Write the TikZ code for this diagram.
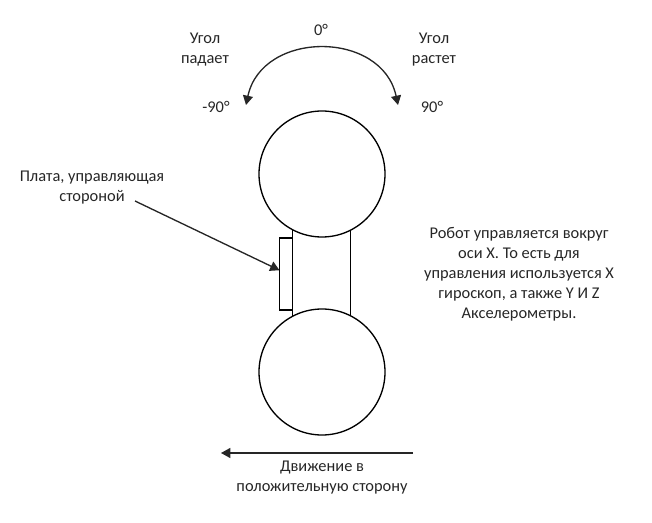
\documentclass[tikz,border=0pt]{standalone}
\usepackage{fontspec}
\setmainfont{Carlito}
\usetikzlibrary{arrows.meta}

\begin{document}
\begin{tikzpicture}[
    x=0.75pt,
    y=-0.75pt,
    line width=1pt,
    wheel/.style={circle, draw, fill=white, minimum size=94.5pt, inner sep=0pt, outer sep=0pt},
    chassis/.style={rectangle, draw, minimum width=43.5pt, minimum height=69pt, inner sep=0pt, outer sep=0pt},
    board/.style={rectangle, draw, fill=white, minimum width=9.75pt, minimum height=54pt, inner sep=0pt, outer sep=0pt},
    label/.style={align=center, inner sep=0pt, text=black!85, font=\fontsize{12.3}{15}\selectfont},
    arrow/.style={-{Triangle[length=7pt,width=7.5pt]}, black!85}
]
\useasboundingbox (0,0) rectangle (652,523);

% Robot body
\node[chassis] (body) at (321.5,273) {};
\node[board] (plate) at (286,274) {};
\node[wheel] (top_wheel) at (322,174) {};
\node[wheel] (bottom_wheel) at (322,372) {};

% Angle labels
\node[label] (zero) at (321,30) {0°};
\node[label] (minus_ninety) at (216,107) {-90°};
\node[label] (plus_ninety) at (432,107) {90°};
\node[label] (angle_down) at (205,50) {Угол\\падает};
\node[label] (angle_up) at (434,50) {Угол\\растет};

% Side labels
\node[label] (plate_label) at (92,188) {Плата, управляющая\\стороной};
\node[label] (axis_note) at (519,274) {Робот управляется вокруг\\оси X. То есть для\\управления используется X\\гироскоп, а также Y И Z\\Акселерометры.};
\node[label] (motion_label) at (322,478) {Движение в\\положительную сторону};

% Free arrow ends
\coordinate (arc_left) at (246,105);
\coordinate (arc_right) at (398,105);
\coordinate (plate_start) at (135,201);
\coordinate (motion_start) at (413,453);
\coordinate (motion_end) at (221,453);

% Arrows
\draw[black!85, {Triangle[length=7pt,width=7.5pt]}-{Triangle[length=7pt,width=7.5pt]}] (arc_left) .. controls (262,30) and (382,30) .. (arc_right);
\draw[arrow] (plate_start) -- (plate.150);
\draw[arrow] (motion_start) -- (motion_end);

\end{tikzpicture}
\end{document}
